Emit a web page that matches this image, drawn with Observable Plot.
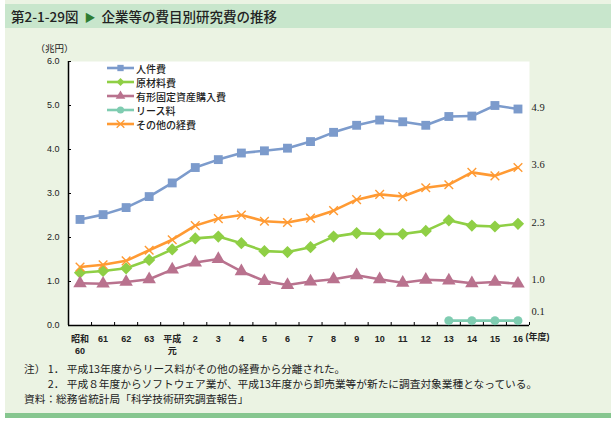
<!DOCTYPE html>
<html><head><meta charset="utf-8">
<script src="https://cdn.jsdelivr.net/npm/d3@7"></script>
<script src="https://cdn.jsdelivr.net/npm/@observablehq/plot@0.6"></script>
<style>
html,body{margin:0;padding:0;background:#fff;}
body{width:611px;height:421px;position:relative;overflow:hidden;font-family:"Liberation Sans","Noto Sans CJK JP",sans-serif;color:#222;}
#panel{position:absolute;left:5px;top:0;width:606px;height:413px;background:#EBF3E3;}
#bar{position:absolute;left:5px;top:413px;width:606px;height:5px;background:#86C68F;}
#title{position:absolute;left:5px;top:4px;width:606px;height:24px;background:#C8E6CC;font-family:"Noto Sans CJK JP",sans-serif;font-size:13.5px;line-height:24px;font-weight:500;color:#222;}
#title span{margin-left:6px;}
#title .tri{color:#2E7D32;font-size:11px;margin:0 6px;}
#chart{position:absolute;left:0;top:36px;}
#legend{position:absolute;left:106px;top:61px;font-family:"Noto Sans CJK JP",sans-serif;font-size:10px;font-weight:500;}
#legend .row{height:14px;display:flex;align-items:center;}
#legend svg{margin-right:1px;}
#notes{position:absolute;left:24px;top:361px;font-family:"Noto Sans CJK JP",sans-serif;font-size:10.7px;line-height:15px;color:#222;}
#notes div{white-space:pre;}
</style></head>
<body>
<div id="panel"></div>
<div id="bar"></div>
<div id="title"><span>第2-1-29図<span class="tri">▶</span>企業等の費目別研究費の推移</span></div>
<div id="chart"></div>
<div id="legend"></div>
<div id="notes">
<div>注） 1． 平成13年度からリース料がその他の経費から分離された。</div>
<div>　　 2． 平成８年度からソフトウェア業が、平成13年度から卸売業等が新たに調査対象業種となっている。</div>
<div>資料：総務省統計局「科学技術研究調査報告」</div>
</div>
<script>
// ---- data ----
const yearLabels = ["昭和\n60","61","62","63","平成\n元","2","3","4","5","6","7","8","9","10","11","12","13","14","15","16"];
const seriesNames = ["人件費","原材料費","有形固定資産購入費","リース料","その他の経費"];
const personnel = [2.41,2.52,2.68,2.93,3.24,3.59,3.77,3.92,3.97,4.03,4.18,4.39,4.55,4.67,4.63,4.55,4.75,4.76,5.00,4.92];
const materials = [1.20,1.24,1.30,1.49,1.73,1.98,2.02,1.87,1.69,1.67,1.78,2.02,2.10,2.08,2.08,2.15,2.39,2.27,2.25,2.31];
const assets    = [0.96,0.95,0.99,1.05,1.27,1.43,1.51,1.23,1.01,0.92,1.00,1.05,1.14,1.05,0.97,1.04,1.02,0.96,0.99,0.95];
const lease     = [null,null,null,null,null,null,null,null,null,null,null,null,null,null,null,null,0.11,0.11,0.11,0.11];
const other     = [1.33,1.38,1.47,1.71,1.95,2.27,2.43,2.51,2.37,2.34,2.44,2.61,2.86,2.98,2.93,3.13,3.20,3.48,3.40,3.59];
const endLabels = ["4.9","3.6","2.3","1.0"];
const leaseLabel = ["0.1"];
const yTicks = [0,1,2,3,4,5,6];

const colors = ["#7C9BCC","#8FCF45","#B9728E","#7FCCB1","#FF9A33"];
const symbols = ["square","diamond2","triangle","circle","times"];
const symSizes = [5,5.5,5,4.5,4];
const values = [personnel, materials, assets, lease, other];

const rows = [];
values.forEach((vals, s) => vals.forEach((v, i) => { if (v != null) rows.push({s, name: seriesNames[s], i, v}); }));
const idx = d3.range(yearLabels.length);
const bounds = d3.range(yearLabels.length).map(i => i + 0.5);

const lineMarks = [];
values.forEach((vals, s) => {
  const d = rows.filter(r => r.s === s);
  lineMarks.push(Plot.line(d, {x: "i", y: "v", stroke: colors[s], strokeWidth: 2.6}));
  if (symbols[s] === "times") {
    lineMarks.push(Plot.dot(d, {x: "i", y: "v", symbol: "times", stroke: colors[s], strokeWidth: 1.4, r: symSizes[s]}));
  } else {
    lineMarks.push(Plot.dot(d, {x: "i", y: "v", symbol: symbols[s], fill: colors[s], stroke: null, r: symSizes[s]}));
  }
});

const chart = Plot.plot({
  width: 611, height: 320,
  marginTop: 25, marginBottom: 31, marginLeft: 68, marginRight: 82,
  style: {background: "transparent", fontFamily: '"Liberation Sans","Noto Sans CJK JP",sans-serif', color: "#222"},
  x: {type: "linear", domain: [-0.5, yearLabels.length - 0.5]},
  y: {domain: [0, 6]},
  marks: [
    Plot.frame({fill: "white", stroke: null}),
    Plot.axisY({ticks: yTicks, tickFormat: d => d.toFixed(1), tickSize: -3, tickPadding: 12, fontSize: 9, label: null, stroke: "#000"}),
    Plot.axisX({ticks: bounds, tickSize: -3, tickFormat: () => "", label: null, stroke: "#000"}),
    Plot.axisX({ticks: idx, tickSize: 0, tickPadding: 8, tickFormat: i => yearLabels[i], label: null, fontSize: 9, fontWeight: "bold", lineHeight: 1.3}),
    Plot.ruleX([-0.5], {stroke: "#000", strokeWidth: 1.5}),
    Plot.ruleY([0], {stroke: "#000", strokeWidth: 1.5}),
    ...lineMarks,
    Plot.text(endLabels, {y: d => +d, text: d => d, frameAnchor: "right", textAnchor: "start", dx: 2, dy: -2, fontFamily: '"Liberation Serif",serif', fontSize: 10.5, fill: "#222"}),
    Plot.text(leaseLabel, {y: d => +d, text: d => d, frameAnchor: "right", textAnchor: "start", dx: 2, dy: -9, fontFamily: '"Liberation Serif",serif', fontSize: 10.5, fill: "#222"}),
    Plot.text(["(年度)"], {frameAnchor: "bottom-right", textAnchor: "start", dx: -4, dy: 14, fontSize: 9, fontWeight: "bold", fill: "#222"}),
    Plot.text(["（兆円）"], {frameAnchor: "top-left", textAnchor: "middle", dx: -14, dy: -16, fontSize: 9.5, fill: "#222"})
  ]
});
document.getElementById("chart").appendChild(chart);

// legend
const legend = d3.select("#legend");
seriesNames.forEach((name, s) => {
  const row = legend.append("div").attr("class", "row");
  const svg = row.append("svg").attr("width", 29).attr("height", 14);
  svg.append("line").attr("x1", 1).attr("x2", 28).attr("y1", 7).attr("y2", 7).attr("stroke", colors[s]).attr("stroke-width", 2.6);
  const sym = {square: d3.symbolSquare, diamond2: d3.symbolDiamond2, triangle: d3.symbolTriangle, circle: d3.symbolCircle, times: d3.symbolTimes}[symbols[s]];
  const p = svg.append("path").attr("transform", "translate(14.5,7)").attr("d", d3.symbol(sym, 40)());
  if (symbols[s] === "times") p.attr("fill", "none").attr("stroke", colors[s]).attr("stroke-width", 1.3);
  else p.attr("fill", colors[s]);
  row.append("span").text(name);
});
</script>
</body></html>
